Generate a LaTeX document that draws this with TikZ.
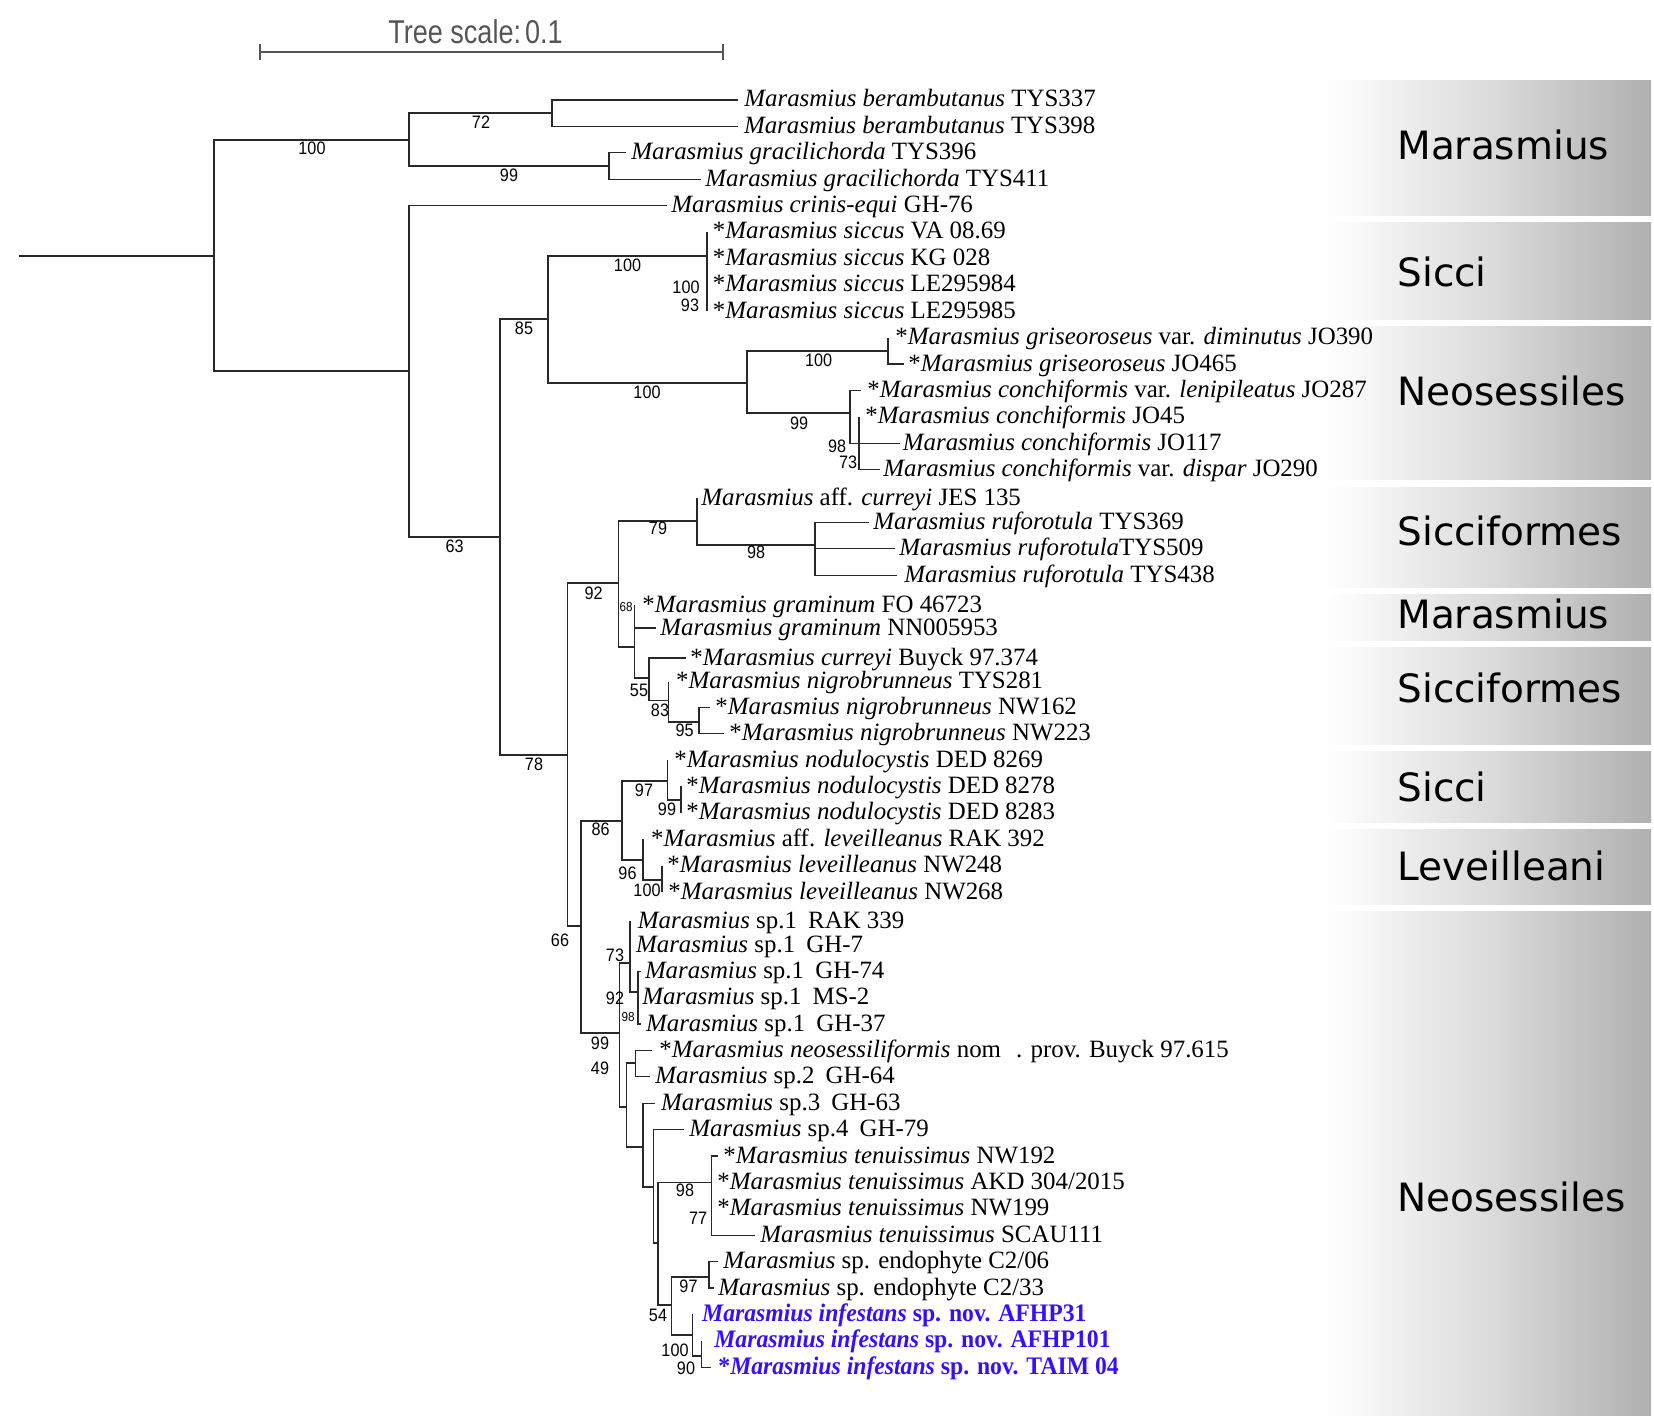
\documentclass[tikz,border=0pt]{standalone}
\usepackage{fontspec}
\setmainfont{Liberation Serif}
\newfontfamily\blueserif[FakeStretch=0.94]{Liberation Serif}
\newfontfamily\numfam[FakeStretch=0.9]{Liberation Sans}
\newfontfamily\scalefam[FakeStretch=0.82]{Liberation Sans}
\newfontfamily\cladefam{DejaVu Sans}
\definecolor{infblue}{RGB}{55,15,255}
\definecolor{linecol}{RGB}{40,40,40}
\definecolor{scalecol}{RGB}{85,85,85}
\newcommand\mytaxon[5]{%
  \coordinate (#1) at (#2,#3);
  \node[leaf] (#1-l) at (#4,#3+7) {#5};}
\begin{document}
\begin{tikzpicture}[x=0.5pt,y=-0.5pt,
  br/.style={draw=linecol,line width=0.6pt},
  leaf/.style={inner sep=0pt,anchor=base west,font=\fontsize{12.45}{14}\selectfont},
  bs/.style={inner sep=0pt,font=\numfam\fontsize{9}{10}\selectfont},
  bssm/.style={inner sep=0pt,font=\numfam\fontsize{6.5}{7}\selectfont},
  clade/.style={inner sep=0pt,anchor=west,font=\cladefam\fontsize{19.5}{22}\selectfont},
  cladebox/.style={left color=white,right color=black!31,middle color=black!14},
  inf/.style={text=infblue,font=\blueserif\fontsize{12.6}{14}\selectfont\bfseries},
  scalebar/.style={draw=scalecol,line width=1pt}]
\useasboundingbox (0,0) rectangle (1654,1423);

% clade boxes
\shade[cladebox] (1325,81) rectangle (1651,216);
\shade[cladebox] (1325,223) rectangle (1651,319);
\shade[cladebox] (1325,326) rectangle (1651,479);
\shade[cladebox] (1325,487) rectangle (1651,587);
\shade[cladebox] (1325,594) rectangle (1651,640);
\shade[cladebox] (1325,647) rectangle (1651,744);
\shade[cladebox] (1325,751) rectangle (1651,822);
\shade[cladebox] (1325,829) rectangle (1651,904);
\shade[cladebox] (1325,911) rectangle (1651,1415);
\node[clade] (c1) at (1397,145) {Marasmius};
\node[clade] (c2) at (1397,272) {Sicci};
\node[clade] (c3) at (1397,391) {Neosessiles};
\node[clade] (c4) at (1397,531) {Sicciformes};
\node[clade] (c5) at (1397,614) {Marasmius};
\node[clade] (c6) at (1397,688) {Sicciformes};
\node[clade] (c7) at (1397,787) {Sicci};
\node[clade] (c8) at (1397,866) {Leveilleani};
\node[clade] (c9) at (1397,1197) {Neosessiles};

% scale bar
\coordinate (sb1) at (259.6,52.5);
\coordinate (sb2) at (722.9,52.5);
\draw[scalebar] (sb1) -- (sb2);
\draw[scalebar] ([yshift=4pt]sb1) -- ([yshift=-4pt]sb1);
\draw[scalebar] ([yshift=4pt]sb2) -- ([yshift=-4pt]sb2);
\node[inner sep=0pt,anchor=base,text=scalecol,font=\scalefam\fontsize{16.5}{18}\selectfont] (sbt) at (475.5,43.5) {Tree scale:\hspace{0.12em}0.1};

% leaves
\mytaxon{t0}{738}{100}{744}{\textit{Marasmius berambutanus} TYS337}
\mytaxon{t1}{737.5}{126.4}{743.6}{\textit{Marasmius berambutanus} TYS398}
\mytaxon{t2}{626}{152.8}{631}{\textit{Marasmius gracilichorda} TYS396}
\mytaxon{t3}{700.7}{179.2}{705}{\textit{Marasmius gracilichorda} TYS411}
\mytaxon{t4}{667}{205.6}{671}{\textit{Marasmius crinis-equi} GH-76}
\mytaxon{t5}{707}{232}{712.5}{*\textit{Marasmius siccus} VA 08.69}
\mytaxon{t6}{707}{258.4}{712.5}{*\textit{Marasmius siccus} KG 028}
\mytaxon{t7}{707}{284.8}{712.5}{*\textit{Marasmius siccus} LE295984}
\mytaxon{t8}{707}{311.2}{712.5}{*\textit{Marasmius siccus} LE295985}
\mytaxon{t9}{888}{337.6}{895}{*\textit{Marasmius griseoroseus} var. \textit{diminutus} JO390}
\mytaxon{t10}{904}{364}{908}{*\textit{Marasmius griseoroseus} JO465}
\mytaxon{t11}{861}{390.4}{867}{*\textit{Marasmius conchiformis} var. \textit{lenipileatus} JO287}
\mytaxon{t12}{859}{416.8}{865}{*\textit{Marasmius conchiformis} JO45}
\mytaxon{t13}{900}{443.2}{902.5}{\textit{Marasmius conchiformis} JO117}
\mytaxon{t14}{880}{469.6}{883}{\textit{Marasmius conchiformis} var. \textit{dispar} JO290}
\mytaxon{t15}{697}{498}{701}{\textit{Marasmius} aff. \textit{curreyi} JES 135}
\mytaxon{t16}{868.6}{522.4}{873}{\textit{Marasmius ruforotula} TYS369}
\mytaxon{t17}{895}{548.8}{899}{\textit{Marasmius ruforotula}TYS509}
\mytaxon{t18}{897}{575.2}{904}{\textit{Marasmius ruforotula} TYS438}
\mytaxon{t19}{634.6}{605}{642}{*\textit{Marasmius graminum} FO 46723}
\mytaxon{t20}{656}{628}{660}{\textit{Marasmius graminum} NN005953}
\mytaxon{t21}{686}{658}{690}{*\textit{Marasmius curreyi} Buyck 97.374}
\mytaxon{t22}{668.6}{681.5}{675.7}{*\textit{Marasmius nigrobrunneus} TYS281}
\mytaxon{t23}{709.6}{707.2}{715}{*\textit{Marasmius nigrobrunneus} NW162}
\mytaxon{t24}{724}{733.6}{729}{*\textit{Marasmius nigrobrunneus} NW223}
\mytaxon{t25}{667.5}{760}{674}{*\textit{Marasmius nodulocystis} DED 8269}
\mytaxon{t26}{681}{786.4}{686}{*\textit{Marasmius nodulocystis} DED 8278}
\mytaxon{t27}{681}{812.8}{686}{*\textit{Marasmius nodulocystis} DED 8283}
\mytaxon{t28}{643}{839.2}{650.7}{*\textit{Marasmius} aff. \textit{leveilleanus} RAK 392}
\mytaxon{t29}{662}{865.6}{667}{*\textit{Marasmius leveilleanus} NW248}
\mytaxon{t30}{662}{892}{668}{*\textit{Marasmius leveilleanus} NW268}
\mytaxon{t31}{630}{921}{637.5}{\textit{Marasmius} sp.1\hspace{0.45em}RAK 339}
\mytaxon{t32}{630}{945.5}{635.7}{\textit{Marasmius} sp.1\hspace{0.45em}GH-7}
\mytaxon{t33}{641}{971.2}{644.6}{\textit{Marasmius} sp.1\hspace{0.45em}GH-74}
\mytaxon{t34}{638}{997.6}{642}{\textit{Marasmius} sp.1\hspace{0.45em}MS-2}
\mytaxon{t35}{641}{1024}{645.7}{\textit{Marasmius} sp.1\hspace{0.45em}GH-37}
\mytaxon{t36}{652}{1050.4}{659}{*\textit{Marasmius neosessiliformis} nom\hspace{0.6em}. prov. Buyck 97.615}
\mytaxon{t37}{650}{1076.8}{655}{\textit{Marasmius} sp.2\hspace{0.45em}GH-64}
\mytaxon{t38}{655}{1103.2}{660.7}{\textit{Marasmius} sp.3\hspace{0.45em}GH-63}
\mytaxon{t39}{684}{1129.6}{689}{\textit{Marasmius} sp.4\hspace{0.45em}GH-79}
\mytaxon{t40}{718}{1156}{723}{*\textit{Marasmius tenuissimus} NW192}
\mytaxon{t41}{711.4}{1182.4}{717}{*\textit{Marasmius tenuissimus} AKD 304/2015}
\mytaxon{t42}{711.4}{1208.8}{717}{*\textit{Marasmius tenuissimus} NW199}
\mytaxon{t43}{755}{1235.2}{760}{\textit{Marasmius tenuissimus} SCAU111}
\mytaxon{t44}{718}{1261.6}{723}{\textit{Marasmius} sp. endophyte C2/06}
\mytaxon{t45}{713.6}{1288}{717.9}{\textit{Marasmius} sp. endophyte C2/33}
\coordinate (t46) at (692.7,1314.4);
\node[leaf,inf] (t46-l) at (701.8,1321.4) {\textit{Marasmius infestans} sp. nov. AFHP31};
\coordinate (t47) at (701.7,1340.8);
\node[leaf,inf] (t47-l) at (714,1347.8) {\textit{Marasmius infestans} sp. nov. AFHP101};
\coordinate (t48) at (711,1367.2);
\node[leaf,inf] (t48-l) at (718,1374.2) {*\textit{Marasmius infestans} sp. nov. TAIM 04};

% internal nodes
\coordinate (r0) at (18.6,256);
\coordinate (rt) at (214,256);
\coordinate (nA) at (409,140);
\coordinate (nB) at (409,371);
\coordinate (nBer) at (552,113);
\coordinate (nGra) at (609,166);
\coordinate (nC) at (500,537);
\coordinate (n85) at (548,319);
\coordinate (nSic) at (707,256);
\coordinate (nNeo) at (747,383);
\coordinate (nGri) at (888,351);
\coordinate (nCon) at (850,413);
\coordinate (nCon2) at (859,443.2);
\coordinate (n78) at (567.5,755);
\coordinate (n92) at (618.6,583);
\coordinate (n79) at (697,521);
\coordinate (nRuf) at (815,545);
\coordinate (n68) at (634.6,647);
\coordinate (n55) at (649,678);
\coordinate (n83) at (668.6,700.7);
\coordinate (n95) at (699,722);
\coordinate (n66) at (581,926);
\coordinate (n86) at (622,821);
\coordinate (n97) at (667.5,781);
\coordinate (n99b) at (681,800);
\coordinate (n96) at (643,860);
\coordinate (n100l) at (662,880);
\coordinate (n99) at (619.6,1033);
\coordinate (n73) at (630,963);
\coordinate (n98s) at (638,992);
\coordinate (n49) at (626.8,1107);
\coordinate (nNs) at (635.7,1063);
\coordinate (nS3) at (642.9,1147);
\coordinate (nS4) at (653.6,1187);
\coordinate (nX) at (657.9,1243);
\coordinate (nTen) at (711.4,1182.4);
\coordinate (n54) at (671.7,1305);
\coordinate (nEnd) at (709,1277);
\coordinate (nInf) at (692.7,1335);
\coordinate (n90) at (701.7,1356);

% branches
\draw[br] (r0) -- (rt);
\draw[br] (rt) |- (nA) (rt) |- (nB);
\draw[br] (nA) |- (nBer) (nA) |- (nGra);
\draw[br] (nBer) |- (t0) (nBer) |- (t1);
\draw[br] (nGra) |- (t2) (nGra) |- (t3);
\draw[br] (nB) |- (t4) (nB) |- (nC);
\draw[br] (nC) |- (n85) (nC) |- (n78);
\draw[br] (n85) |- (nSic) (n85) |- (nNeo);
\draw[br] (nSic) |- (t5) (nSic) |- (t6) (nSic) |- (t7) (nSic) |- (t8);
\draw[br] (nNeo) |- (nGri) (nNeo) |- (nCon);
\draw[br] (nGri) |- (t9) (nGri) |- (t10);
\draw[br] (nCon) |- (t11) (nCon) |- (nCon2);
\draw[br] (nCon2) |- (t12) (nCon2) |- (t13) (nCon2) |- (t14);
\draw[br] (n78) |- (n92) (n78) |- (n66);
\draw[br] (n92) |- (n79) (n92) |- (n68);
\draw[br] (n79) |- (t15) (n79) |- (nRuf);
\draw[br] (nRuf) |- (t16) (nRuf) |- (t17) (nRuf) |- (t18);
\draw[br] (n68) |- (t19) (n68) |- (t20) (n68) |- (n55);
\draw[br] (n55) |- (t21) (n55) |- (n83);
\draw[br] (n83) |- (t22) (n83) |- (n95);
\draw[br] (n95) |- (t23) (n95) |- (t24);
\draw[br] (n66) |- (n86) (n66) |- (n99);
\draw[br] (n86) |- (n97) (n86) |- (n96);
\draw[br] (n97) |- (t25) (n97) |- (n99b);
\draw[br] (n99b) |- (t26) (n99b) |- (t27);
\draw[br] (n96) |- (t28) (n96) |- (n100l);
\draw[br] (n100l) |- (t29) (n100l) |- (t30);
\draw[br] (n99) |- (n73) (n99) |- (n49);
\draw[br] (n73) |- (t31) (n73) |- (t32) (n73) |- (n98s);
\draw[br] (n98s) |- (t33) (n98s) |- (t34) (n98s) |- (t35);
\draw[br] (n49) |- (nNs) (n49) |- (nS3);
\draw[br] (nNs) |- (t36) (nNs) |- (t37);
\draw[br] (nS3) |- (t38) (nS3) |- (nS4);
\draw[br] (nS4) |- (t39) (nS4) |- (nX);
\draw[br] (nX) |- (nTen) (nX) |- (n54);
\draw[br] (nTen) |- (t40) (nTen) |- (t41) (nTen) |- (t42) (nTen) |- (t43);
\draw[br] (n54) |- (nEnd) (n54) |- (nInf);
\draw[br] (nEnd) |- (t44) (nEnd) |- (t45);
\draw[br] (nInf) |- (t46) (nInf) |- (n90);
\draw[br] (n90) |- (t47) (n90) |- (t48);

% bootstrap values
\node[bs] (b1) at (312,148) {100};
\node[bs] (b2) at (481,122) {72};
\node[bs] (b3) at (509,175) {99};
\node[bs] (b4) at (524,328) {85};
\node[bs] (b5) at (454.6,546) {63};
\node[bs] (b6) at (627.5,265) {100};
\node[bs] (b7) at (686,287) {100};
\node[bs] (b8) at (690,305) {93};
\node[bs] (b9) at (818.6,360) {100};
\node[bs] (b10) at (647,392) {100};
\node[bs] (b11) at (799,423) {99};
\node[bs] (b12) at (837,446) {98};
\node[bs] (b13) at (848,462.5) {73};
\node[bs] (b14) at (658,528) {79};
\node[bs] (b15) at (756,552) {98};
\node[bs] (b16) at (593.6,593) {92};
\node[bssm] (b17) at (626,607) {68};
\node[bs] (b18) at (639,690) {55};
\node[bs] (b19) at (660,710) {83};
\node[bs] (b20) at (684.6,730.7) {95};
\node[bs] (b21) at (534,764) {78};
\node[bs] (b22) at (644,790) {97};
\node[bs] (b23) at (600.7,829) {86};
\node[bs] (b24) at (667,809) {99};
\node[bs] (b25) at (627.5,873) {96};
\node[bs] (b26) at (647,890) {100};
\node[bs] (b27) at (560,940) {66};
\node[bs] (b28) at (615,955) {73};
\node[bs] (b29) at (615,998) {92};
\node[bssm] (b30) at (628,1017) {98};
\node[bs] (b31) at (600,1043) {99};
\node[bs] (b32) at (600,1068) {49};
\node[bs] (b33) at (685,1190) {98};
\node[bs] (b34) at (698,1218) {77};
\node[bs] (b35) at (688.5,1286) {97};
\node[bs] (b36) at (658,1315) {54};
\node[bs] (b37) at (675,1350) {100};
\node[bs] (b38) at (686,1368) {90};
\end{tikzpicture}
\end{document}
